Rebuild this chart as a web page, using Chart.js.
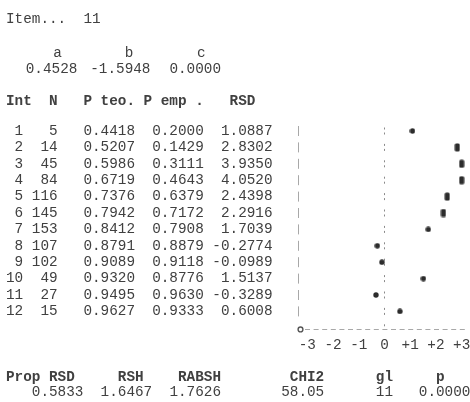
<!DOCTYPE html>
<html>
<head>
<meta charset="utf-8">
<script src="https://cdn.jsdelivr.net/npm/chart.js@4.4.1/dist/chart.umd.min.js"></script>
<style>
  html, body { margin: 0; padding: 0; background: #fff; }
  #wrap { position: relative; width: 470px; height: 402px; overflow: hidden; }
  #c { position: absolute; left: 0; top: 0; width: 470px; height: 402px; }
  .t { position: absolute; white-space: pre; font-family: "Liberation Mono", monospace;
       font-size: 14.33px; line-height: 1; color: #404040; }
  .b { font-weight: bold; }
</style>
</head>
<body>
<div id="wrap"><canvas id="c" width="470" height="402"></canvas></div>
<script>
// ---- item fit report -------------------------------------------------------
const itemTitle   = 'Item...  11';
const paramNames  = ['a', 'b', 'c'];
const paramValues = ['0.4528', '-1.5948', '0.0000'];

const intervals = [1, 2, 3, 4, 5, 6, 7, 8, 9, 10, 11, 12];
const counts    = [5, 14, 45, 84, 116, 145, 153, 107, 102, 49, 27, 15];
const pTheo     = [0.4418, 0.5207, 0.5986, 0.6719, 0.7376, 0.7942, 0.8412, 0.8791, 0.9089, 0.9320, 0.9495, 0.9627];
const pEmp      = [0.2000, 0.1429, 0.3111, 0.4643, 0.6379, 0.7172, 0.7908, 0.8879, 0.9118, 0.8776, 0.9630, 0.9333];
const rsd       = [1.0887, 2.8302, 3.9350, 4.0520, 2.4398, 2.2916, 1.7039, -0.2774, -0.0989, 1.5137, -0.3289, 0.6008];

const tableHeader = 'Int  N   P teo. P emp .   RSD';
const xTicks      = [-3, -2, -1, 0, 1, 2, 3];
const xTickLabels = ['-3', '-2', '-1', '0', '+1', '+2', '+3'];

const statNames  = ['Prop RSD', 'RSH', 'RABSH', 'CHI2', 'gl', 'p'];
const statValues = ['0.5833', '1.6467', '1.7626', '58.05', '11', '0.0000'];

// ---- text grid ---------------------------------------------------------------
const X0 = 6, CW = 8.6;              // left margin and character cell width
const FONT = { family: '"Liberation Mono", monospace', size: 14.33, lineHeight: 1 };
const INK = '#404040';
const ROW1_Y = 131, PITCH = 16.4;    // first table row centre, row spacing
const PLOT_LEFT = 298;               // the "|" column
const Y_MIN = 0.4, Y_MAX = 13.1;     // row units shown in the plot strip
const X_MIN = -3.36, X_MAX = 3.13;   // RSD range across the strip
const EDGE = 3;                      // values past this sit in the last column
const SIG = 1.96;                    // '#' marks, otherwise '*'

const wrap = document.getElementById('wrap');
function put(text, left, yCentre, bold) {
  const d = document.createElement('div');
  d.className = 't' + (bold ? ' b' : '');
  d.textContent = text;
  d.style.left = left + 'px';
  d.style.top = (yCentre - 6.3) + 'px';
  wrap.appendChild(d);
}
const col = c => X0 + c * CW;

put(itemTitle, col(0), 18);
[5.5, 13.8, 22.2].forEach((c, i) => put(paramNames[i], col(c), 52));
[2.3, 9.8, 19].forEach((c, i) => put(paramValues[i], col(c), 68));
put(tableHeader, col(0), 100, true);
[0, 13, 20, 33, 43, 50].forEach((c, i) => put(statNames[i], col(c), 376, true));
[3, 11, 19, 32, 43, 48].forEach((c, i) => put(statValues[i], col(c), 391));

// table rows become the y-axis labels of the plot strip
const rowLabels = intervals.map((k, i) =>
  String(k).padStart(2) + String(counts[i]).padStart(4) + '   ' +
  pTheo[i].toFixed(4) + '  ' + pEmp[i].toFixed(4) + ' ' +
  rsd[i].toFixed(4).padStart(7));

// marks: '*' and '#'
function mark(w, h, round) {
  const m = document.createElement('canvas');
  m.width = w; m.height = h;
  const g = m.getContext('2d');
  g.fillStyle = '#2c2c2c';
  g.beginPath();
  if (round) g.ellipse(w / 2, h / 2, w / 2 - 0.3, h / 2 - 0.3, 0, 0, Math.PI * 2);
  else g.roundRect(0.5, 0.5, w - 1, h - 1, 1.5);
  g.fill();
  return m;
}
const starMark = mark(6, 6, true);
const hashMark = mark(6, 9, false);

// "|" per row, dashed baseline with its corner mark
const textPlot = {
  id: 'textPlot',
  beforeDatasetsDraw(chart) {
    const { ctx, chartArea: a, scales: { y } } = chart;
    ctx.save();
    ctx.strokeStyle = '#a8a8a8';
    ctx.lineWidth = 1;
    intervals.forEach((_, i) => {
      const py = y.getPixelForValue(i + 1);
      ctx.beginPath();
      ctx.moveTo(a.left + 0.5, py - 5);
      ctx.lineTo(a.left + 0.5, py + 5);
      ctx.stroke();
    });
    ctx.setLineDash([5, 3.6]);
    ctx.beginPath();
    ctx.moveTo(a.left + 7, Math.round(a.bottom) + 0.5);
    ctx.lineTo(a.right, Math.round(a.bottom) + 0.5);
    ctx.stroke();
    ctx.setLineDash([]);
    ctx.strokeStyle = '#555';
    ctx.lineWidth = 1.4;
    ctx.beginPath();
    ctx.arc(a.left + 2.5, a.bottom, 2.4, 0, Math.PI * 2);
    ctx.stroke();
    ctx.restore();
  }
};

const chartTop = ROW1_Y - (1 - Y_MIN) * PITCH;
const chartBottom = chartTop + (Y_MAX - Y_MIN) * PITCH;

new Chart(document.getElementById('c'), {
  type: 'scatter',
  data: {
    datasets: [{
      data: rsd.map((r, i) => ({ x: Math.max(-EDGE, Math.min(EDGE, r)), y: intervals[i] })),
      pointStyle: ctx => Math.abs(rsd[ctx.dataIndex]) > SIG ? hashMark : starMark,
      pointRadius: 3,
      showLine: false
    }]
  },
  options: {
    responsive: false,
    animation: false,
    events: [],
    layout: { padding: { left: X0, top: chartTop, right: 0, bottom: 0 } },
    plugins: { legend: { display: false }, tooltip: { enabled: false }, title: { display: false } },
    scales: {
      x: {
        type: 'linear',
        position: 'bottom',
        min: X_MIN,
        max: X_MAX,
        afterBuildTicks: s => { s.ticks = xTicks.map(v => ({ value: v })); },
        afterFit: s => { s.height = 402 - chartBottom; s.paddingLeft = 0; s.paddingRight = 0; },
        ticks: {
          callback: (v, i) => xTickLabels[i],
          font: FONT,
          color: INK,
          padding: 8.4,
          autoSkip: false,
          maxRotation: 0
        },
        grid: {
          drawTicks: false,
          color: ctx => (ctx.tick && ctx.tick.value === 0) ? '#8a8a8a' : 'rgba(0,0,0,0)',
          lineWidth: 1
        },
        border: { display: false, dash: [2, 3, 2, 9.4], dashOffset: 10.06 }
      },
      y: {
        type: 'linear',
        position: 'left',
        reverse: true,
        min: Y_MIN,
        max: Y_MAX,
        afterBuildTicks: s => { s.ticks = intervals.map(v => ({ value: v })); },
        afterFit: s => { s.width = PLOT_LEFT - X0; s.paddingTop = 0; s.paddingBottom = 0; },
        ticks: {
          callback: (v, i) => rowLabels[i],
          crossAlign: 'far',
          font: FONT,
          color: INK,
          padding: 0,
          autoSkip: false
        },
        grid: { display: false },
        border: { display: false }
      }
    }
  },
  plugins: [textPlot]
});
</script>
</body>
</html>
